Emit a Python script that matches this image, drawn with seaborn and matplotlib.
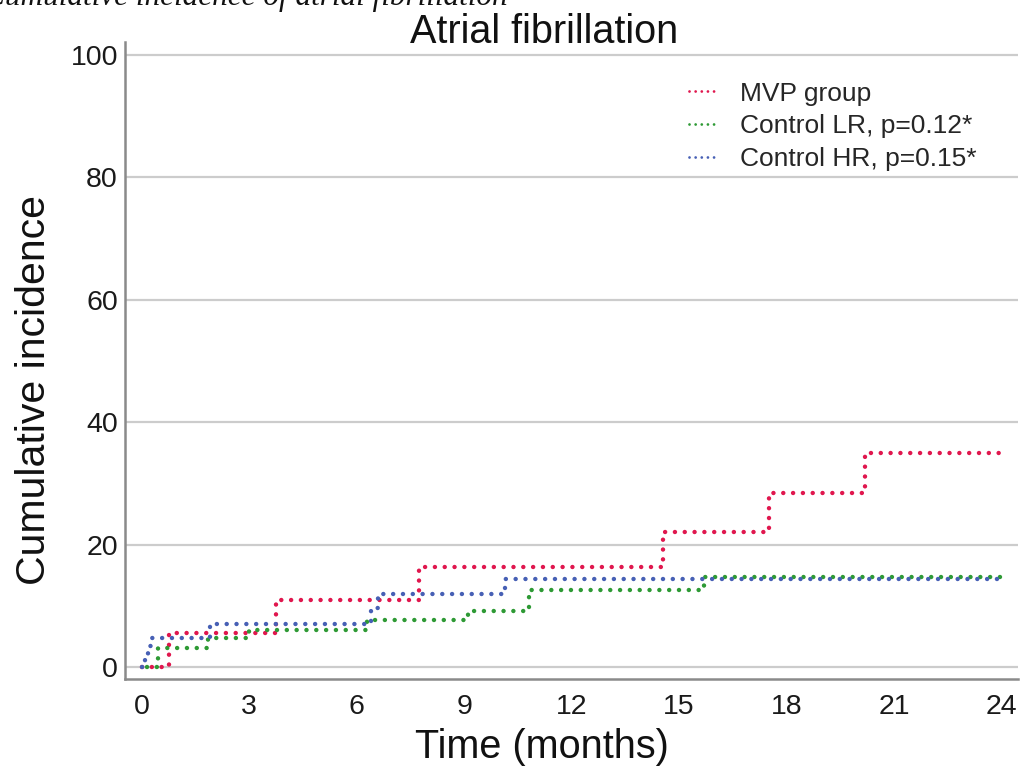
import numpy as np
import pandas as pd
import matplotlib
matplotlib.use("Agg")
import matplotlib.pyplot as plt
import seaborn as sns

# ---- data ----
groups = ["MVP group", "Control LR, p=0.12*", "Control HR, p=0.15*"]

mvp_time = [0.0, 0.75, 3.75, 7.75, 14.55, 17.5, 20.2, 24.0]
mvp_inc = [0.0, 5.5, 10.9, 16.4, 22.0, 28.5, 35.0, 35.0]

lr_time = [0.15, 0.45, 1.85, 3.0, 6.3, 9.1, 10.8, 15.7, 24.0]
lr_inc = [0.0, 3.1, 4.7, 6.0, 7.7, 9.2, 12.6, 14.7, 14.7]

hr_time = [0.0, 0.1, 0.18, 0.28, 1.9, 6.4, 6.6, 10.15, 24.0]
hr_inc = [0.0, 1.8, 3.5, 4.8, 7.0, 9.6, 12.0, 14.4, 14.4]

colors = ["#E0174E", "#2E9A35", "#4760B5"]

x_ticks = [0, 3, 6, 9, 12, 15, 18, 21, 24]
y_ticks = [0, 20, 40, 60, 80, 100]

# ---- build table ----
frames = []
for g, t, v in zip(groups, [mvp_time, lr_time, hr_time], [mvp_inc, lr_inc, hr_inc]):
    frames.append(pd.DataFrame({"time": t, "inc": v, "group": g}))
df = pd.concat(frames, ignore_index=True)

sns.set_theme(style="white")
plt.rcParams["font.family"] = ["Liberation Sans", "DejaVu Sans"]

fig = plt.figure(figsize=(10.24, 7.73), dpi=100)
ax = fig.add_axes([0.122, 0.1216, 0.872, 0.8241])

for y in y_ticks:
    ax.axhline(y, color="#cccccc", lw=1.6, zorder=0)

dot = (0, (0.01, 2.2))
sns.lineplot(data=df, x="time", y="inc", hue="group", hue_order=groups,
             palette=colors, estimator=None, sort=True,
             drawstyle="steps-post", linestyle=dot, linewidth=3.2,
             dash_capstyle="round", ax=ax)

ax.set_xlim(-0.47, 24.46)
ax.set_ylim(-1.96, 102.1)
ax.set_xticks(x_ticks)
ax.set_yticks(y_ticks)
ax.tick_params(axis="x", length=0, labelsize=20.5, colors="#1a1a1a", pad=11)
ax.tick_params(axis="y", length=0, labelsize=20.5, colors="#1a1a1a", pad=5)
for s in ["top", "right"]:
    ax.spines[s].set_visible(False)
for s in ["left", "bottom"]:
    ax.spines[s].set_color("#8a8a8a")
    ax.spines[s].set_linewidth(1.8)

ax.set_xlabel("Time (months)", fontsize=28.5, color="#111111")
ax.xaxis.set_label_coords(0.467, -0.077)
ax.set_ylabel("Cumulative incidence", fontsize=29.5, color="#111111")
ax.yaxis.set_label_coords(-0.081, 0.454)
ax.set_title("Atrial fibrillation", fontsize=28.5, color="#111111", x=0.469, y=0.986)

leg = ax.legend(loc="upper right", frameon=False, fontsize=19,
                handlelength=1.0, handletextpad=0.9, labelspacing=0.33,
                bbox_to_anchor=(0.98, 0.975))
for line in leg.get_lines():
    line.set_linewidth(2.0)

fig.text(-0.016, 1.004, "Cumulative incidence of atrial fibrillation",
         fontsize=22.5, style="italic", family="Liberation Serif",
         ha="left", va="center", color="#111111")

fig.savefig("out.png", dpi=100)
